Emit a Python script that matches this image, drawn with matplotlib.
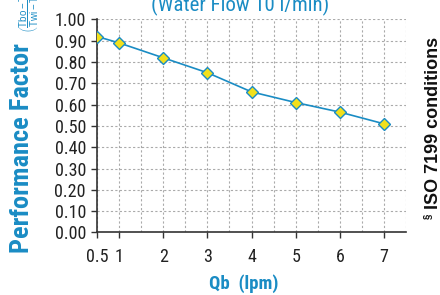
import matplotlib
matplotlib.use("Agg")
import matplotlib.pyplot as plt
from matplotlib.ticker import MultipleLocator

qb = [0.5, 1, 2, 3, 4, 5, 6, 7]
pf = [0.92, 0.89, 0.82, 0.75, 0.66, 0.61, 0.565, 0.51]
xticks = [0.5, 1, 2, 3, 4, 5, 6, 7]
xticklabels = ["0.5", "1", "2", "3", "4", "5", "6", "7"]
yticks = [0.0, 0.1, 0.2, 0.3, 0.4, 0.5, 0.6, 0.7, 0.8, 0.9, 1.0]

BLUE = "#1a8cc4"
FONT = ["Liberation Sans Narrow", "Arial Narrow", "Roboto Condensed", "Liberation Sans", "DejaVu Sans"]
plt.rcParams['mathtext.fontset'] = 'custom'
plt.rcParams['mathtext.rm'] = 'Liberation Sans'
plt.rcParams['mathtext.it'] = 'Liberation Sans'

fig = plt.figure(figsize=(4.4, 2.95), dpi=100)
ax = fig.add_axes([0.2205, 0.212, 0.923 - 0.2205, 0.934 - 0.212])

ax.plot(qb, pf, color=BLUE, lw=1.2, marker="D", markersize=6,
        markerfacecolor="#f2e01c", markeredgecolor=BLUE, markeredgewidth=1.0, zorder=3)

ax.set_xlim(0.5, 7.5)
ax.set_ylim(0, 1.0)
ax.set_xticks(xticks)
ax.set_xticklabels(xticklabels, family=FONT, fontsize=13, color="#222222")
ax.set_yticks(yticks)
ax.set_yticklabels([f"{v:.2f}" for v in yticks], family=FONT, fontsize=13, color="#222222")
ax.xaxis.set_minor_locator(MultipleLocator(0.5))
ax.grid(True, which="both", color="#aaaaaa", linestyle=(0, (2, 2)), lw=0.8)
ax.tick_params(axis="x", which="major", length=4, width=1, color="#333333", pad=7)
ax.tick_params(axis="x", which="minor", length=0)
ax.tick_params(axis="y", length=4, width=1, color="#333333", pad=4)
for s in ["top", "right"]:
    ax.spines[s].set_visible(False)
for s in ["left", "bottom"]:
    ax.spines[s].set_color("#333333")
    ax.spines[s].set_linewidth(1.2)
ax.set_axisbelow(True)

fig.text(244 / 440, 1 - 284 / 295, "Qb  (lpm)", family=FONT, fontweight="bold",
         fontsize=13.5, color=BLUE, ha="center", va="center")
fig.text(240 / 440, 1 - 11 / 295, "(Water Flow 10 l/min)", family=FONT,
         fontsize=15, color=BLUE, ha="center", va="baseline")
fig.text(22 / 440, 1 - 253 / 295, "Performance Factor", family=FONT, fontweight="bold",
         fontsize=19, color=BLUE, rotation=90, ha="center", va="bottom")
fig.text(29 / 440, 1 - 33 / 295, r"$\left(\dfrac{\mathrm{Tbo - Tbi}}{\mathrm{Twi - Tbi}}\right)$",
         fontsize=7, color=BLUE, rotation=90, ha="center", va="bottom")
fig.text(433 / 440, 1 - 209 / 295, "ISO 7199 conditions", family=["Liberation Sans", "DejaVu Sans"],
         fontweight="bold", fontsize=13, color="#111111", rotation=90, ha="center", va="bottom")
fig.text(428 / 440, 1 - 219 / 295, "§", family=["Liberation Sans", "DejaVu Sans"],
         fontweight="bold", fontsize=7, color="#111111", rotation=90, ha="center", va="bottom")

fig.savefig("out.png", dpi=100)
